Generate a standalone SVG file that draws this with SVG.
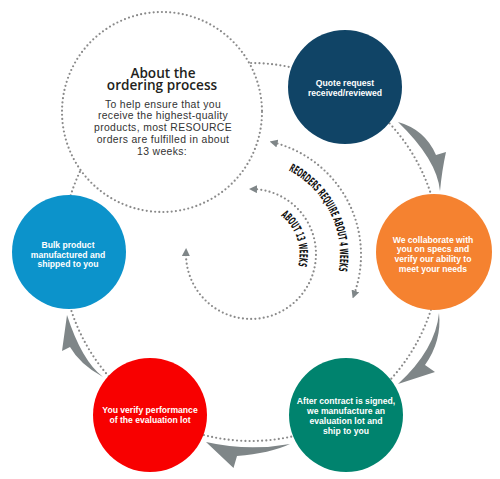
<svg xmlns="http://www.w3.org/2000/svg" width="500" height="479" viewBox="0 0 500 479">
<defs>
<style>
.dots{fill:none;stroke:#8a8a8a;stroke-width:2.2;stroke-linecap:round;stroke-dasharray:0 4.2}
.swoosh{fill:#7f8688}
.ct{font-family:"Liberation Sans",Arial,sans-serif;font-weight:700;font-size:8.6px;fill:#ffffff;text-anchor:middle}
.title{font-family:"Open Sans","Liberation Sans",sans-serif;font-weight:600;font-size:13.6px;fill:#231f20;text-anchor:middle}
.body{font-family:"Liberation Sans",Arial,sans-serif;font-size:10.4px;letter-spacing:0.35px;fill:#333333;text-anchor:middle}
.curv{font-family:"DejaVu Sans Condensed","DejaVu Sans",sans-serif;font-stretch:condensed;font-weight:700;font-size:11.5px;fill:#111111}
</style>
<marker id="ah" viewBox="0 0 10 10" refX="5" refY="5" markerWidth="8" markerHeight="8" markerUnits="userSpaceOnUse" orient="auto-start-reverse">
<path d="M0,0 L10,5 L0,10 z" fill="#7f8688"/>
</marker>
<path id="tp1" d="M277.5,165.7 A95,95 0 0 1 335.8,282.8" fill="none"/>
<path id="tp2" d="M275.25,212 A48.5,48.5 0 0 1 296,272.2" fill="none"/>
</defs>
<g id="connectors">
<circle class="dots" cx="251" cy="252" r="189"/>
<path class="swoosh" d="M398,122 Q425,129.5 436,155 L446,152 Q442,170 440,191 Q437,159.5 398,122 Z"/>
<path class="swoosh" d="M439,313 Q442,341 425,365 L435,372 L398,384 Q435.5,349.5 439,313 Z"/>
<path class="swoosh" d="M290,444 Q270,453.4 237,456 L233.5,468 L206,442 Q248,451.6 290,444 Z"/>
<path class="swoosh" d="M103,377 Q80,364.6 70,347 L62,351 L67,315 Q81.6,360.6 103,377 Z"/>
<path class="dots" d="M273.5,142.5 A116,116 0 0 1 354,294.7" marker-start="url(#ah)" marker-end="url(#ah)"/>
<path class="dots" d="M253,189 A65,65 0 1 1 186,252" marker-start="url(#ah)" marker-end="url(#ah)"/>
</g>
<g id="labels">
<text class="curv"><textPath href="#tp1" startOffset="50%" text-anchor="middle" textLength="120" lengthAdjust="spacingAndGlyphs">REORDERS REQUIRE ABOUT 4 WEEKS</textPath></text>
<text class="curv"><textPath href="#tp2" startOffset="50%" text-anchor="middle" textLength="56" lengthAdjust="spacingAndGlyphs">ABOUT 13 WEEKS</textPath></text>
</g>
<g id="about">
<circle cx="162" cy="112" r="100" class="dots" style="fill:#ffffff"/>
<text class="title" x="163" y="78">About the</text>
<text class="title" x="162" y="89.5">ordering process</text>
<text class="body" x="163" y="107.5">To help ensure that you</text>
<text class="body" x="163" y="119.3">receive the highest-quality</text>
<text class="body" x="163" y="131">products, most RESOURCE</text>
<text class="body" x="163" y="142.8">orders are fulfilled in about</text>
<text class="body" x="162" y="154.5">13 weeks:</text>
</g>
<g id="quote">
<circle cx="345" cy="87" r="57" fill="#104466"/>
<text class="ct" x="345" y="86">Quote request</text>
<text class="ct" x="345" y="96">received/reviewed</text>
</g>
<g id="collaborate">
<circle cx="434" cy="252" r="58" fill="#f58230"/>
<text class="ct" x="433" y="242.7">We collaborate with</text>
<text class="ct" x="433" y="252.4">you on specs and</text>
<text class="ct" x="433" y="262.1">verify our ability to</text>
<text class="ct" x="433" y="271.8">meet your needs</text>
</g>
<g id="evaluation">
<circle cx="346" cy="415" r="57" fill="#00836e"/>
<text class="ct" x="346" y="404">After contract is signed,</text>
<text class="ct" x="346" y="414">we manufacture an</text>
<text class="ct" x="346" y="424">evaluation lot and</text>
<text class="ct" x="346" y="434">ship to you</text>
</g>
<g id="verify">
<circle cx="150" cy="415" r="57" fill="#f80000"/>
<text class="ct" x="150" y="413">You verify performance</text>
<text class="ct" x="150" y="423">of the evaluation lot</text>
</g>
<g id="bulk">
<circle cx="69" cy="252" r="57" fill="#0c93cb"/>
<text class="ct" x="68" y="248">Bulk product</text>
<text class="ct" x="68" y="257.5">manufactured and</text>
<text class="ct" x="68" y="267">shipped to you</text>
</g>
</svg>
